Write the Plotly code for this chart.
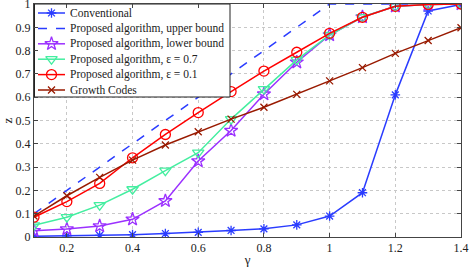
import plotly.graph_objects as go

gamma = [0.1, 0.2, 0.3, 0.4, 0.5, 0.6, 0.7, 0.8, 0.9, 1.0, 1.1, 1.2, 1.3, 1.4]
conventional = [0.003, 0.005, 0.007, 0.010, 0.015, 0.020, 0.028, 0.035, 0.052, 0.090, 0.190, 0.610, 0.970, 0.998]
upper_bound = [0.1, 0.2, 0.3, 0.4, 0.5, 0.6, 0.7, 0.8, 0.9, 1.0, 1.0, 1.0, 1.0, 1.0]
lower_bound = [0.027, 0.034, 0.047, 0.076, 0.155, 0.326, 0.457, 0.613, 0.750, 0.867, 0.944, 0.990, 0.998, 1.0]
eps07 = [0.050, 0.085, 0.137, 0.205, 0.285, 0.362, 0.506, 0.635, 0.760, 0.867, 0.944, 0.990, 0.998, 1.0]
eps01 = [0.085, 0.152, 0.230, 0.340, 0.440, 0.534, 0.624, 0.712, 0.793, 0.874, 0.943, 0.990, 0.998, 1.0]
growth = [0.090, 0.177, 0.256, 0.330, 0.395, 0.452, 0.506, 0.557, 0.612, 0.670, 0.727, 0.788, 0.843, 0.898]

names = ["Conventional", "Proposed algorithm, upper bound", "Proposed algorithm, lower bound",
         "Proposed algorithm, ε = 0.7", "Proposed algorithm, ε = 0.1", "Growth Codes"]
x_ticks = [0.2, 0.4, 0.6, 0.8, 1.0, 1.2, 1.4]
x_labels = ["0.2", "0.4", "0.6", "0.8", "1", "1.2", "1.4"]
y_ticks = [0, 0.1, 0.2, 0.3, 0.4, 0.5, 0.6, 0.7, 0.8, 0.9, 1.0]
y_labels = ["0", "0.1", "0.2", "0.3", "0.4", "0.5", "0.6", "0.7", "0.8", "0.9", "1"]

W, H = 471, 269
ML, MR, MT, MB = 34, 10, 4, 32
FONT = "Liberation Serif"

styles = [
    ("#2a3cff", "solid", "asterisk-open", 8),
    ("#2a3cff", "dash", None, 0),
    ("#9b30ff", "solid", "star-open", 10),
    ("#44eea0", "solid", "triangle-down-open", 10),
    ("#ff0000", "solid", "circle-open", 10),
    ("#991a00", "solid", "x-thin-open", 7),
]
all_series = [conventional, upper_bound, lower_bound, eps07, eps01, growth]

fig = go.Figure()
for ys, name, (color, dash, sym, size) in zip(all_series, names, styles):
    if sym is None:
        fig.add_trace(go.Scatter(x=gamma, y=ys, name=name, mode="lines", showlegend=False,
                                 line=dict(color=color, dash=dash, width=1.5)))
    else:
        fig.add_trace(go.Scatter(x=gamma, y=ys, name=name, mode="lines+markers", showlegend=False,
                                 line=dict(color=color, dash=dash, width=1.5),
                                 marker=dict(symbol=sym, size=size, color=color,
                                             line=dict(color=color, width=1.3))))

# Custom legend drawn on an overlay axis measured in pixels of the plot area
px_left, px_right = ML, W - MR
px_top, px_bottom = MT, H - MB
leg_x0, leg_x1, leg_y0, leg_y1 = 34.5, 230, 4, 97
row0, row_step = 13, 15.4
fig.add_trace(go.Scatter(x=[leg_x0, leg_x1, leg_x1, leg_x0, leg_x0],
                         y=[leg_y0, leg_y0, leg_y1, leg_y1, leg_y0],
                         xaxis="x2", yaxis="y2", mode="lines", fill="toself",
                         fillcolor="white", line=dict(color="#222", width=1),
                         showlegend=False, hoverinfo="skip"))
for i, (name, (color, dash, sym, size)) in enumerate(zip(names, styles)):
    yy = row0 + i * row_step
    fig.add_trace(go.Scatter(x=[38, 65], y=[yy, yy], xaxis="x2", yaxis="y2", mode="lines",
                             showlegend=False, hoverinfo="skip",
                             line=dict(color=color, dash=dash, width=1.5)))
    if sym is not None:
        fig.add_trace(go.Scatter(x=[51.5], y=[yy], xaxis="x2", yaxis="y2", mode="markers",
                                 showlegend=False, hoverinfo="skip",
                                 marker=dict(symbol=sym, size=size, color=color,
                                             line=dict(color=color, width=1.3))))
    fig.add_annotation(x=68, y=yy, xref="x2", yref="y2", text=name, showarrow=False,
                       xanchor="left", yanchor="middle",
                       font=dict(family=FONT, size=11.5, color="#222"))

axis_common = dict(showline=True, linecolor="#444", linewidth=1, mirror="ticks",
                   ticks="inside", ticklen=4, tickcolor="#444",
                   showgrid=True, gridcolor="#c8c8c8", griddash="dot", gridwidth=1,
                   zeroline=False, automargin=False, ticklabeloverflow="allow",
                   tickfont=dict(family=FONT, size=12, color="#222"))

fig.update_layout(
    width=W, height=H,
    margin=dict(l=ML, r=MR, t=MT, b=MB),
    paper_bgcolor="white", plot_bgcolor="white",
    font=dict(family=FONT, size=12, color="#222"),
    xaxis=dict(range=[0.1, 1.4], tickvals=x_ticks, ticktext=x_labels,
               title=dict(text="γ", standoff=0, font=dict(size=13)), **axis_common),
    yaxis=dict(range=[0, 1], tickvals=y_ticks, ticktext=y_labels,
               title=dict(text="z", standoff=2, font=dict(size=13)), **axis_common),
    xaxis2=dict(range=[px_left, px_right], overlaying="x", visible=False, fixedrange=True),
    yaxis2=dict(range=[px_bottom, px_top], overlaying="y", visible=False, fixedrange=True),
    showlegend=False,
)

fig.write_html("out.html", config={"displayModeBar": False},
               post_script="document.body.style.margin='0';document.body.style.overflow='hidden';")
